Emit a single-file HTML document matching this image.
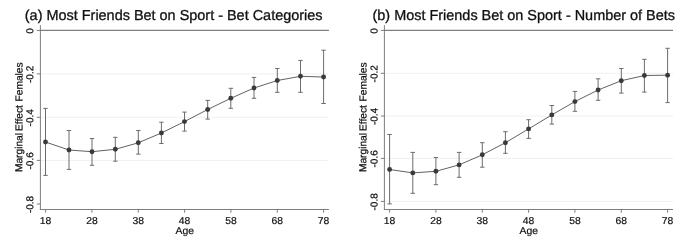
<!DOCTYPE html>
<html lang="en"><head><meta charset="utf-8"><title>Marginal Effect Females by Age</title>
<style>html,body{margin:0;padding:0;background:#fff}body{width:685px;height:249px;overflow:hidden}svg{display:block}text{text-rendering:geometricPrecision;font-family:"Liberation Sans", Arial, sans-serif;fill:#111;stroke:#111;stroke-width:0.3px}text.r{stroke-width:0.22px}text.x{stroke-width:0.2px}</style>
</head><body>
<svg width="685" height="249" viewBox="0 0 685 249">
<rect width="685" height="249" fill="#fff"/>
<g>
<text x="24.8" y="20.4" font-size="14.45">(a) Most Friends Bet on Sport - Bet Categories</text>
<line x1="40.4" y1="73.9" x2="328.9" y2="73.9" stroke="#f0f0f0" stroke-width="1"/>
<line x1="40.4" y1="117.3" x2="328.9" y2="117.3" stroke="#f0f0f0" stroke-width="1"/>
<line x1="40.4" y1="160.4" x2="328.9" y2="160.4" stroke="#f0f0f0" stroke-width="1"/>
<line x1="40.4" y1="30.4" x2="328.9" y2="30.4" stroke="#808080" stroke-width="1.1"/>
<line x1="40.4" y1="25.2" x2="40.4" y2="210.0" stroke="#7e7e7e" stroke-width="1"/>
<line x1="39.9" y1="209.5" x2="328.9" y2="209.5" stroke="#7e7e7e" stroke-width="1"/>
<line x1="36.8" y1="30.4" x2="40.4" y2="30.4" stroke="#7e7e7e" stroke-width="1"/>
<text transform="translate(33.3 30.9) rotate(-89.95)" font-size="10" text-anchor="middle" class="r">0</text>
<line x1="36.8" y1="73.9" x2="40.4" y2="73.9" stroke="#7e7e7e" stroke-width="1"/>
<text transform="translate(33.3 74.4) rotate(-89.95)" font-size="10" text-anchor="middle" class="r">-0.2</text>
<line x1="36.8" y1="117.3" x2="40.4" y2="117.3" stroke="#7e7e7e" stroke-width="1"/>
<text transform="translate(33.3 117.8) rotate(-89.95)" font-size="10" text-anchor="middle" class="r">-0.4</text>
<line x1="36.8" y1="160.4" x2="40.4" y2="160.4" stroke="#7e7e7e" stroke-width="1"/>
<text transform="translate(33.3 160.9) rotate(-89.95)" font-size="10" text-anchor="middle" class="r">-0.6</text>
<line x1="36.8" y1="204.0" x2="40.4" y2="204.0" stroke="#7e7e7e" stroke-width="1"/>
<text transform="translate(33.3 204.5) rotate(-89.95)" font-size="10" text-anchor="middle" class="r">-0.8</text>
<text transform="translate(22.4 117.2) rotate(-89.95)" font-size="10.2" text-anchor="middle" class="r">Marginal <tspan dx="-0.9">Effect</tspan> <tspan dx="0.9">Females</tspan></text>
<line x1="45.6" y1="209.5" x2="45.6" y2="212.7" stroke="#7e7e7e" stroke-width="1"/>
<text transform="translate(45.6 223.8) scale(1.035 1)" font-size="10" text-anchor="middle" class="x">18</text>
<line x1="91.9" y1="209.5" x2="91.9" y2="212.7" stroke="#7e7e7e" stroke-width="1"/>
<text transform="translate(91.9 223.8) scale(1.035 1)" font-size="10" text-anchor="middle" class="x">28</text>
<line x1="138.3" y1="209.5" x2="138.3" y2="212.7" stroke="#7e7e7e" stroke-width="1"/>
<text transform="translate(138.3 223.8) scale(1.035 1)" font-size="10" text-anchor="middle" class="x">38</text>
<line x1="184.6" y1="209.5" x2="184.6" y2="212.7" stroke="#7e7e7e" stroke-width="1"/>
<text transform="translate(184.6 223.8) scale(1.035 1)" font-size="10" text-anchor="middle" class="x">48</text>
<line x1="230.9" y1="209.5" x2="230.9" y2="212.7" stroke="#7e7e7e" stroke-width="1"/>
<text transform="translate(230.9 223.8) scale(1.035 1)" font-size="10" text-anchor="middle" class="x">58</text>
<line x1="277.3" y1="209.5" x2="277.3" y2="212.7" stroke="#7e7e7e" stroke-width="1"/>
<text transform="translate(277.3 223.8) scale(1.035 1)" font-size="10" text-anchor="middle" class="x">68</text>
<line x1="323.6" y1="209.5" x2="323.6" y2="212.7" stroke="#7e7e7e" stroke-width="1"/>
<text transform="translate(323.6 223.8) scale(1.035 1)" font-size="10" text-anchor="middle" class="x">78</text>
<text transform="translate(184.8 233.5) scale(1.035 1)" font-size="10" text-anchor="middle" class="x">Age</text>
<path d="M45.5 108.4V175.4M43.3 108.4h4.4M43.3 175.4h4.4" stroke="#6c6c6c" stroke-width="1" fill="none"/>
<path d="M69.0 130.5V169.4M66.8 130.5h4.4M66.8 169.4h4.4" stroke="#6c6c6c" stroke-width="1" fill="none"/>
<path d="M92.0 138.6V165.3M89.8 138.6h4.4M89.8 165.3h4.4" stroke="#6c6c6c" stroke-width="1" fill="none"/>
<path d="M115.3 137.3V161.2M113.1 137.3h4.4M113.1 161.2h4.4" stroke="#6c6c6c" stroke-width="1" fill="none"/>
<path d="M138.3 130.5V154.1M136.1 130.5h4.4M136.1 154.1h4.4" stroke="#6c6c6c" stroke-width="1" fill="none"/>
<path d="M161.4 122.2V143.5M159.2 122.2h4.4M159.2 143.5h4.4" stroke="#6c6c6c" stroke-width="1" fill="none"/>
<path d="M184.5 112.1V131.1M182.3 112.1h4.4M182.3 131.1h4.4" stroke="#6c6c6c" stroke-width="1" fill="none"/>
<path d="M207.7 100.4V119.1M205.5 100.4h4.4M205.5 119.1h4.4" stroke="#6c6c6c" stroke-width="1" fill="none"/>
<path d="M230.8 88.3V108.3M228.6 88.3h4.4M228.6 108.3h4.4" stroke="#6c6c6c" stroke-width="1" fill="none"/>
<path d="M254.0 77.4V98.3M251.8 77.4h4.4M251.8 98.3h4.4" stroke="#6c6c6c" stroke-width="1" fill="none"/>
<path d="M277.3 68.5V92.3M275.1 68.5h4.4M275.1 92.3h4.4" stroke="#6c6c6c" stroke-width="1" fill="none"/>
<path d="M300.5 60.4V92.3M298.3 60.4h4.4M298.3 92.3h4.4" stroke="#6c6c6c" stroke-width="1" fill="none"/>
<path d="M323.6 50.2V103.5M321.4 50.2h4.4M321.4 103.5h4.4" stroke="#6c6c6c" stroke-width="1" fill="none"/>
<path d="M45.5 142.0 L69.0 150.0 L92.0 151.7 L115.3 149.3 L138.3 142.8 L161.4 133.0 L184.5 121.6 L207.7 109.5 L230.8 98.3 L254.0 88.0 L277.3 80.5 L300.5 76.3 L323.6 77.0" stroke="#505050" stroke-width="0.9" fill="none" stroke-linejoin="round"/>
<circle cx="45.5" cy="142.0" r="2.45" fill="#3a3a3a"/>
<circle cx="69.0" cy="150.0" r="2.45" fill="#3a3a3a"/>
<circle cx="92.0" cy="151.7" r="2.45" fill="#3a3a3a"/>
<circle cx="115.3" cy="149.3" r="2.45" fill="#3a3a3a"/>
<circle cx="138.3" cy="142.8" r="2.45" fill="#3a3a3a"/>
<circle cx="161.4" cy="133.0" r="2.45" fill="#3a3a3a"/>
<circle cx="184.5" cy="121.6" r="2.45" fill="#3a3a3a"/>
<circle cx="207.7" cy="109.5" r="2.45" fill="#3a3a3a"/>
<circle cx="230.8" cy="98.3" r="2.45" fill="#3a3a3a"/>
<circle cx="254.0" cy="88.0" r="2.45" fill="#3a3a3a"/>
<circle cx="277.3" cy="80.5" r="2.45" fill="#3a3a3a"/>
<circle cx="300.5" cy="76.3" r="2.45" fill="#3a3a3a"/>
<circle cx="323.6" cy="77.0" r="2.45" fill="#3a3a3a"/>
</g>
<g>
<text x="372.5" y="20.4" font-size="14.45">(b) Most Friends Bet on Sport - Number of Bets</text>
<line x1="384.4" y1="73.3" x2="673.0" y2="73.3" stroke="#f0f0f0" stroke-width="1"/>
<line x1="384.4" y1="116.0" x2="673.0" y2="116.0" stroke="#f0f0f0" stroke-width="1"/>
<line x1="384.4" y1="158.4" x2="673.0" y2="158.4" stroke="#f0f0f0" stroke-width="1"/>
<line x1="384.4" y1="201.4" x2="673.0" y2="201.4" stroke="#f0f0f0" stroke-width="1"/>
<line x1="384.4" y1="30.4" x2="673.0" y2="30.4" stroke="#808080" stroke-width="1.1"/>
<line x1="384.4" y1="25.2" x2="384.4" y2="210.0" stroke="#7e7e7e" stroke-width="1"/>
<line x1="383.9" y1="209.5" x2="673.0" y2="209.5" stroke="#7e7e7e" stroke-width="1"/>
<line x1="380.8" y1="30.4" x2="384.4" y2="30.4" stroke="#7e7e7e" stroke-width="1"/>
<text transform="translate(377.5 30.9) rotate(-89.95)" font-size="10" text-anchor="middle" class="r">0</text>
<line x1="380.8" y1="73.3" x2="384.4" y2="73.3" stroke="#7e7e7e" stroke-width="1"/>
<text transform="translate(377.5 73.8) rotate(-89.95)" font-size="10" text-anchor="middle" class="r">-0.2</text>
<line x1="380.8" y1="116.0" x2="384.4" y2="116.0" stroke="#7e7e7e" stroke-width="1"/>
<text transform="translate(377.5 116.5) rotate(-89.95)" font-size="10" text-anchor="middle" class="r">-0.4</text>
<line x1="380.8" y1="158.4" x2="384.4" y2="158.4" stroke="#7e7e7e" stroke-width="1"/>
<text transform="translate(377.5 158.9) rotate(-89.95)" font-size="10" text-anchor="middle" class="r">-0.6</text>
<line x1="380.8" y1="201.4" x2="384.4" y2="201.4" stroke="#7e7e7e" stroke-width="1"/>
<text transform="translate(377.5 201.9) rotate(-89.95)" font-size="10" text-anchor="middle" class="r">-0.8</text>
<text transform="translate(366.4 117.2) rotate(-89.95)" font-size="10.2" text-anchor="middle" class="r">Marginal <tspan dx="-0.9">Effect</tspan> <tspan dx="0.9">Females</tspan></text>
<line x1="389.6" y1="209.5" x2="389.6" y2="212.7" stroke="#7e7e7e" stroke-width="1"/>
<text transform="translate(389.6 223.8) scale(1.035 1)" font-size="10" text-anchor="middle" class="x">18</text>
<line x1="435.9" y1="209.5" x2="435.9" y2="212.7" stroke="#7e7e7e" stroke-width="1"/>
<text transform="translate(435.9 223.8) scale(1.035 1)" font-size="10" text-anchor="middle" class="x">28</text>
<line x1="482.3" y1="209.5" x2="482.3" y2="212.7" stroke="#7e7e7e" stroke-width="1"/>
<text transform="translate(482.3 223.8) scale(1.035 1)" font-size="10" text-anchor="middle" class="x">38</text>
<line x1="528.6" y1="209.5" x2="528.6" y2="212.7" stroke="#7e7e7e" stroke-width="1"/>
<text transform="translate(528.6 223.8) scale(1.035 1)" font-size="10" text-anchor="middle" class="x">48</text>
<line x1="574.9" y1="209.5" x2="574.9" y2="212.7" stroke="#7e7e7e" stroke-width="1"/>
<text transform="translate(574.9 223.8) scale(1.035 1)" font-size="10" text-anchor="middle" class="x">58</text>
<line x1="621.3" y1="209.5" x2="621.3" y2="212.7" stroke="#7e7e7e" stroke-width="1"/>
<text transform="translate(621.3 223.8) scale(1.035 1)" font-size="10" text-anchor="middle" class="x">68</text>
<line x1="667.6" y1="209.5" x2="667.6" y2="212.7" stroke="#7e7e7e" stroke-width="1"/>
<text transform="translate(667.6 223.8) scale(1.035 1)" font-size="10" text-anchor="middle" class="x">78</text>
<text transform="translate(528.8 233.5) scale(1.035 1)" font-size="10" text-anchor="middle" class="x">Age</text>
<path d="M389.6 134.5V203.9M387.4 134.5h4.4M387.4 203.9h4.4" stroke="#6c6c6c" stroke-width="1" fill="none"/>
<path d="M412.8 152.4V193.3M410.6 152.4h4.4M410.6 193.3h4.4" stroke="#6c6c6c" stroke-width="1" fill="none"/>
<path d="M435.9 157.5V184.7M433.7 157.5h4.4M433.7 184.7h4.4" stroke="#6c6c6c" stroke-width="1" fill="none"/>
<path d="M459.1 152.4V177.3M456.9 152.4h4.4M456.9 177.3h4.4" stroke="#6c6c6c" stroke-width="1" fill="none"/>
<path d="M482.3 142.7V167.2M480.1 142.7h4.4M480.1 167.2h4.4" stroke="#6c6c6c" stroke-width="1" fill="none"/>
<path d="M505.4 131.7V153.3M503.2 131.7h4.4M503.2 153.3h4.4" stroke="#6c6c6c" stroke-width="1" fill="none"/>
<path d="M528.6 119.7V138.4M526.4 119.7h4.4M526.4 138.4h4.4" stroke="#6c6c6c" stroke-width="1" fill="none"/>
<path d="M551.8 105.5V124.1M549.6 105.5h4.4M549.6 124.1h4.4" stroke="#6c6c6c" stroke-width="1" fill="none"/>
<path d="M574.9 91.4V111.3M572.7 91.4h4.4M572.7 111.3h4.4" stroke="#6c6c6c" stroke-width="1" fill="none"/>
<path d="M598.1 78.8V100.3M595.9 78.8h4.4M595.9 100.3h4.4" stroke="#6c6c6c" stroke-width="1" fill="none"/>
<path d="M621.3 68.5V93.1M619.1 68.5h4.4M619.1 93.1h4.4" stroke="#6c6c6c" stroke-width="1" fill="none"/>
<path d="M644.4 59.3V92.1M642.2 59.3h4.4M642.2 92.1h4.4" stroke="#6c6c6c" stroke-width="1" fill="none"/>
<path d="M667.6 48.3V102.6M665.4 48.3h4.4M665.4 102.6h4.4" stroke="#6c6c6c" stroke-width="1" fill="none"/>
<path d="M389.6 169.5 L412.8 172.9 L435.9 171.3 L459.1 164.9 L482.3 154.8 L505.4 142.7 L528.6 128.9 L551.8 114.9 L574.9 101.6 L598.1 90.0 L621.3 80.7 L644.4 75.5 L667.6 75.2" stroke="#505050" stroke-width="0.9" fill="none" stroke-linejoin="round"/>
<circle cx="389.6" cy="169.5" r="2.45" fill="#3a3a3a"/>
<circle cx="412.8" cy="172.9" r="2.45" fill="#3a3a3a"/>
<circle cx="435.9" cy="171.3" r="2.45" fill="#3a3a3a"/>
<circle cx="459.1" cy="164.9" r="2.45" fill="#3a3a3a"/>
<circle cx="482.3" cy="154.8" r="2.45" fill="#3a3a3a"/>
<circle cx="505.4" cy="142.7" r="2.45" fill="#3a3a3a"/>
<circle cx="528.6" cy="128.9" r="2.45" fill="#3a3a3a"/>
<circle cx="551.8" cy="114.9" r="2.45" fill="#3a3a3a"/>
<circle cx="574.9" cy="101.6" r="2.45" fill="#3a3a3a"/>
<circle cx="598.1" cy="90.0" r="2.45" fill="#3a3a3a"/>
<circle cx="621.3" cy="80.7" r="2.45" fill="#3a3a3a"/>
<circle cx="644.4" cy="75.5" r="2.45" fill="#3a3a3a"/>
<circle cx="667.6" cy="75.2" r="2.45" fill="#3a3a3a"/>
</g>
</svg>
</body></html>
